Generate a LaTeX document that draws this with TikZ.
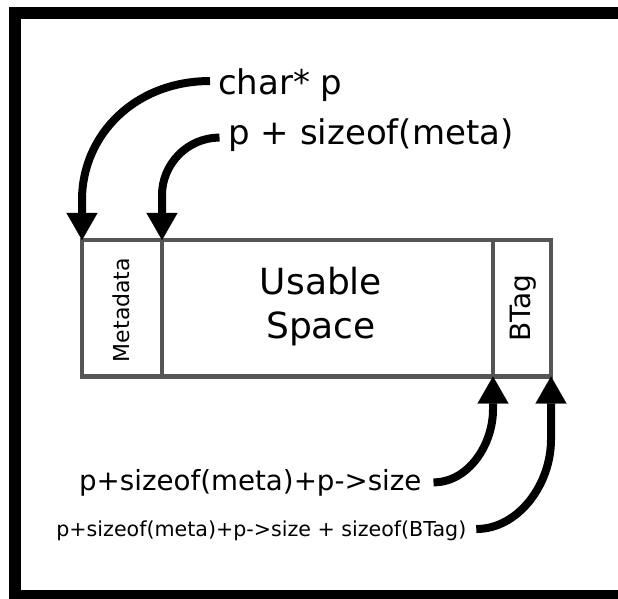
\documentclass[tikz,border=0pt]{standalone}
\usepackage{fontspec}
\setmainfont{DejaVu Sans}
\usetikzlibrary{arrows.meta}
\definecolor{cellgray}{HTML}{555555}
\tikzset{
  cell/.style={draw=cellgray, line width=4.5bp, inner sep=0pt, outer sep=0pt},
  txt/.style={inner sep=0pt, outer sep=0pt},
  ptr/.style={line width=8bp, -{Triangle[width=31bp,length=27bp,line width=0.1bp]}},
}
\begin{document}
\begin{tikzpicture}[x=1bp,y=-1bp]
\useasboundingbox (0,0) rectangle (618,599);
\fill[white] (0,0) rectangle (618,599);
\clip (0,0) rectangle (618,599);
% frame
\draw[line width=12bp] (15,13) rectangle (640,596);
% memory block cells
\node[cell, minimum width=80bp, minimum height=136.5bp] (meta) at (122,308.25) {};
\node[cell, minimum width=331bp, minimum height=136.5bp] (usable) at (327.5,308.25) {};
\node[cell, minimum width=58bp, minimum height=136.5bp] (btag) at (522,308.25) {};
% cell texts
\node[txt, rotate=90, font=\fontsize{22bp}{26bp}\selectfont] (metatxt) at (121.5,310) {Metadata};
\node[txt, align=center, font=\fontsize{36bp}{44.3bp}\selectfont] (usetxt) at (321,306.6) {Usable\\Space};
\node[txt, rotate=90, font=\fontsize{28bp}{32bp}\selectfont] (btagtxt) at (522.7,308.3) {BTag};
% labels
\node[txt, anchor=base west, font=\fontsize{34bp}{40bp}\selectfont] (charp) at (218,95) {char* p};
\node[txt, anchor=base west, font=\fontsize{34bp}{40bp}\selectfont] (psm) at (228.5,145) {p + sizeof(meta)};
\node[txt, anchor=base west, font=\fontsize{27.7bp}{32bp}\selectfont] (b1) at (79.1,490) {p+sizeof(meta)+p->size};
\node[txt, anchor=base west, font=\fontsize{20.6bp}{24bp}\selectfont] (b2) at (56.4,536.7) {p+sizeof(meta)+p->size + sizeof(BTag)};
% pointers
\draw[ptr] ([xshift=-8bp,yshift=4.6bp]charp.west) .. controls +(-75,0) and +(0,-65) .. ([yshift=40bp]meta.north west) -- (meta.north west);
\draw[ptr] ([xshift=-9bp,yshift=-2bp]psm.west) .. controls +(-33,0) and +(0,-30) .. ([yshift=45bp]usable.north west) -- (usable.north west);
\draw[ptr] ([xshift=12bp]b1.east) .. controls +(35,0) and +(0,35) .. ([yshift=-33bp]usable.south east) -- (usable.south east);
\draw[ptr] ([xshift=10bp,yshift=2bp]b2.east) .. controls +(42,0) and +(0,45) .. ([yshift=-63bp]btag.south east) -- (btag.south east);
\end{tikzpicture}
\end{document}
